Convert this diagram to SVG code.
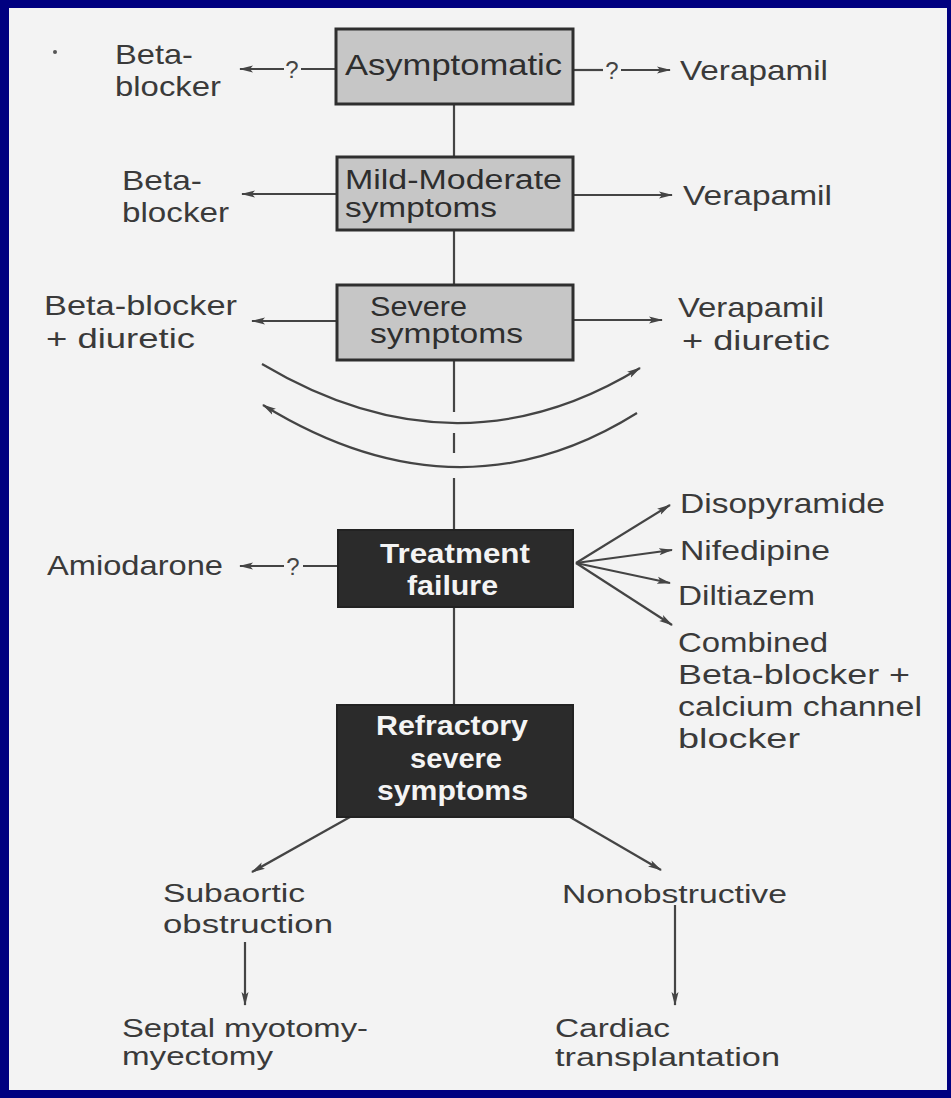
<svg xmlns="http://www.w3.org/2000/svg" width="951" height="1098" viewBox="0 0 951 1098">
<style>
.t{font-family:"Liberation Sans",Arial,sans-serif;fill:#3a3a3a;font-size:28px}
.bx{font-family:"Liberation Sans",Arial,sans-serif;fill:#2e2e2e;font-size:30px}
.bx2{font-family:"Liberation Sans",Arial,sans-serif;fill:#2e2e2e;font-size:27px}
.wt{font-family:"Liberation Sans",Arial,sans-serif;fill:#f4f4f4;font-size:28px;font-weight:bold}
.bt{font-family:"Liberation Sans",Arial,sans-serif;fill:#3a3a3a;font-size:25px}
.q{font-family:"Liberation Sans",Arial,sans-serif;fill:#444;font-size:24px;text-anchor:middle}
.lt{fill:#c6c6c6;stroke:#2e2e2e;stroke-width:3}
.dk{fill:#2b2b2b;stroke:#222;stroke-width:2}
.c{stroke:#444;stroke-width:2.2;fill:none}
.a{marker-end:url(#ah)}
</style>
<defs>
<marker id="ah" markerUnits="userSpaceOnUse" markerWidth="14" markerHeight="8" refX="13" refY="4" orient="auto">
<path d="M0,0.5 L14,4 L0,7.5 L3,4 z" fill="#444"/>
</marker>
</defs>
<rect x="0" y="0" width="951" height="1098" fill="#000080"/>
<rect x="9" y="8" width="938" height="1082" fill="#f3f3f3"/>
<circle cx="55" cy="52" r="2" fill="#555"/>

<g id="connectors">
<line class="c" x1="454" y1="104" x2="454" y2="157"/>
<line class="c" x1="454" y1="230" x2="454" y2="285"/>
<line class="c" x1="454" y1="360" x2="454" y2="412"/>
<line class="c" x1="454" y1="433" x2="454" y2="453"/>
<line class="c" x1="454" y1="478" x2="454" y2="530"/>
<line class="c" x1="454" y1="607" x2="454" y2="705"/>
<line class="c" x1="335" y1="69" x2="301" y2="69"/>
<text class="q" x="292" y="78">?</text>
<line class="c a" x1="284" y1="69" x2="240" y2="69"/>
<line class="c" x1="573" y1="70" x2="603" y2="70"/>
<text class="q" x="612" y="79">?</text>
<line class="c a" x1="621" y1="70" x2="670" y2="70"/>
<line class="c a" x1="336" y1="194" x2="242" y2="194"/>
<line class="c a" x1="573" y1="195" x2="672" y2="195"/>
<line class="c a" x1="336" y1="321" x2="252" y2="321"/>
<line class="c a" x1="573" y1="320" x2="662" y2="320"/>
<path class="c a" d="M262,364 Q457,480 640,368"/>
<path class="c a" d="M637,413 Q458,525 263,405"/>
<line class="c" x1="338" y1="566" x2="303" y2="566"/>
<text class="q" x="293" y="575">?</text>
<line class="c a" x1="284" y1="566" x2="240" y2="566"/>
<line class="c a" x1="576" y1="563" x2="670" y2="505"/>
<line class="c a" x1="576" y1="563" x2="672" y2="550"/>
<line class="c a" x1="576" y1="563" x2="670" y2="583"/>
<line class="c a" x1="576" y1="563" x2="672" y2="625"/>
<line class="c a" x1="350" y1="817" x2="252" y2="872"/>
<line class="c a" x1="570" y1="817" x2="661" y2="870"/>
<line class="c a" x1="245" y1="942" x2="245" y2="1005"/>
<line class="c a" x1="675" y1="905" x2="675" y2="1005"/>
</g>

<g id="asymptomatic">
<rect class="lt" x="336" y="29" width="237" height="75"/>
<text class="bx" x="345" y="75" textLength="217" lengthAdjust="spacingAndGlyphs">Asymptomatic</text>
</g>
<g id="mild">
<rect class="lt" x="337" y="157" width="236" height="73"/>
<text class="bx2" x="345" y="189" textLength="217" lengthAdjust="spacingAndGlyphs">Mild-Moderate</text>
<text class="bx2" x="345" y="217" textLength="152" lengthAdjust="spacingAndGlyphs">symptoms</text>
</g>
<g id="severe">
<rect class="lt" x="337" y="285" width="236" height="75"/>
<text class="bx2" x="370" y="316" textLength="97" lengthAdjust="spacingAndGlyphs">Severe</text>
<text class="bx2" x="370" y="343" textLength="153" lengthAdjust="spacingAndGlyphs">symptoms</text>
</g>
<g id="treatment-failure">
<rect class="dk" x="338" y="530" width="235" height="77"/>
<text class="wt" x="380" y="563" textLength="150" lengthAdjust="spacingAndGlyphs">Treatment</text>
<text class="wt" x="407" y="595" textLength="91" lengthAdjust="spacingAndGlyphs">failure</text>
</g>
<g id="refractory">
<rect class="dk" x="337" y="705" width="236" height="112"/>
<text class="wt" x="376" y="735" textLength="152" lengthAdjust="spacingAndGlyphs">Refractory</text>
<text class="wt" x="410" y="768" textLength="92" lengthAdjust="spacingAndGlyphs">severe</text>
<text class="wt" x="377" y="800" textLength="151" lengthAdjust="spacingAndGlyphs">symptoms</text>
</g>

<g id="beta1">
<text class="t" x="115" y="64" textLength="78" lengthAdjust="spacingAndGlyphs">Beta-</text>
<text class="t" x="115" y="96" textLength="106" lengthAdjust="spacingAndGlyphs">blocker</text>
</g>
<g id="verapamil1">
<text class="t" x="680" y="80" textLength="148" lengthAdjust="spacingAndGlyphs">Verapamil</text>
</g>
<g id="beta2">
<text class="t" x="122" y="190" textLength="80" lengthAdjust="spacingAndGlyphs">Beta-</text>
<text class="t" x="122" y="222" textLength="107" lengthAdjust="spacingAndGlyphs">blocker</text>
</g>
<g id="verapamil2">
<text class="t" x="683" y="205" textLength="149" lengthAdjust="spacingAndGlyphs">Verapamil</text>
</g>
<g id="beta-diuretic">
<text class="t" x="44" y="315" textLength="193" lengthAdjust="spacingAndGlyphs">Beta-blocker</text>
<text class="t" x="46" y="348" textLength="149" lengthAdjust="spacingAndGlyphs">+ diuretic</text>
</g>
<g id="verapamil-diuretic">
<text class="t" x="678" y="317" textLength="146" lengthAdjust="spacingAndGlyphs">Verapamil</text>
<text class="t" x="682" y="350" textLength="148" lengthAdjust="spacingAndGlyphs">+ diuretic</text>
</g>
<g id="amiodarone">
<text class="t" x="47" y="575" textLength="176" lengthAdjust="spacingAndGlyphs">Amiodarone</text>
</g>
<g id="disopyramide">
<text class="t" x="680" y="513" textLength="205" lengthAdjust="spacingAndGlyphs">Disopyramide</text>
</g>
<g id="nifedipine">
<text class="t" x="680" y="560" textLength="150" lengthAdjust="spacingAndGlyphs">Nifedipine</text>
</g>
<g id="diltiazem">
<text class="t" x="678" y="605" textLength="137" lengthAdjust="spacingAndGlyphs">Diltiazem</text>
</g>
<g id="combined">
<text class="t" x="678" y="652" textLength="150" lengthAdjust="spacingAndGlyphs">Combined</text>
<text class="t" x="678" y="684" textLength="232" lengthAdjust="spacingAndGlyphs">Beta-blocker +</text>
<text class="t" x="678" y="716" textLength="244" lengthAdjust="spacingAndGlyphs">calcium channel</text>
<text class="t" x="678" y="748" textLength="122" lengthAdjust="spacingAndGlyphs">blocker</text>
</g>
<g id="subaortic">
<text class="bt" x="163" y="902" textLength="142" lengthAdjust="spacingAndGlyphs">Subaortic</text>
<text class="bt" x="163" y="933" textLength="170" lengthAdjust="spacingAndGlyphs">obstruction</text>
</g>
<g id="nonobstructive">
<text class="bt" x="562" y="903" textLength="225" lengthAdjust="spacingAndGlyphs">Nonobstructive</text>
</g>
<g id="myectomy">
<text class="bt" x="122" y="1037" textLength="246" lengthAdjust="spacingAndGlyphs">Septal myotomy-</text>
<text class="bt" x="122" y="1065" textLength="151" lengthAdjust="spacingAndGlyphs">myectomy</text>
</g>
<g id="transplantation">
<text class="bt" x="555" y="1037" textLength="115" lengthAdjust="spacingAndGlyphs">Cardiac</text>
<text class="bt" x="555" y="1066" textLength="225" lengthAdjust="spacingAndGlyphs">transplantation</text>
</g>
</svg>
